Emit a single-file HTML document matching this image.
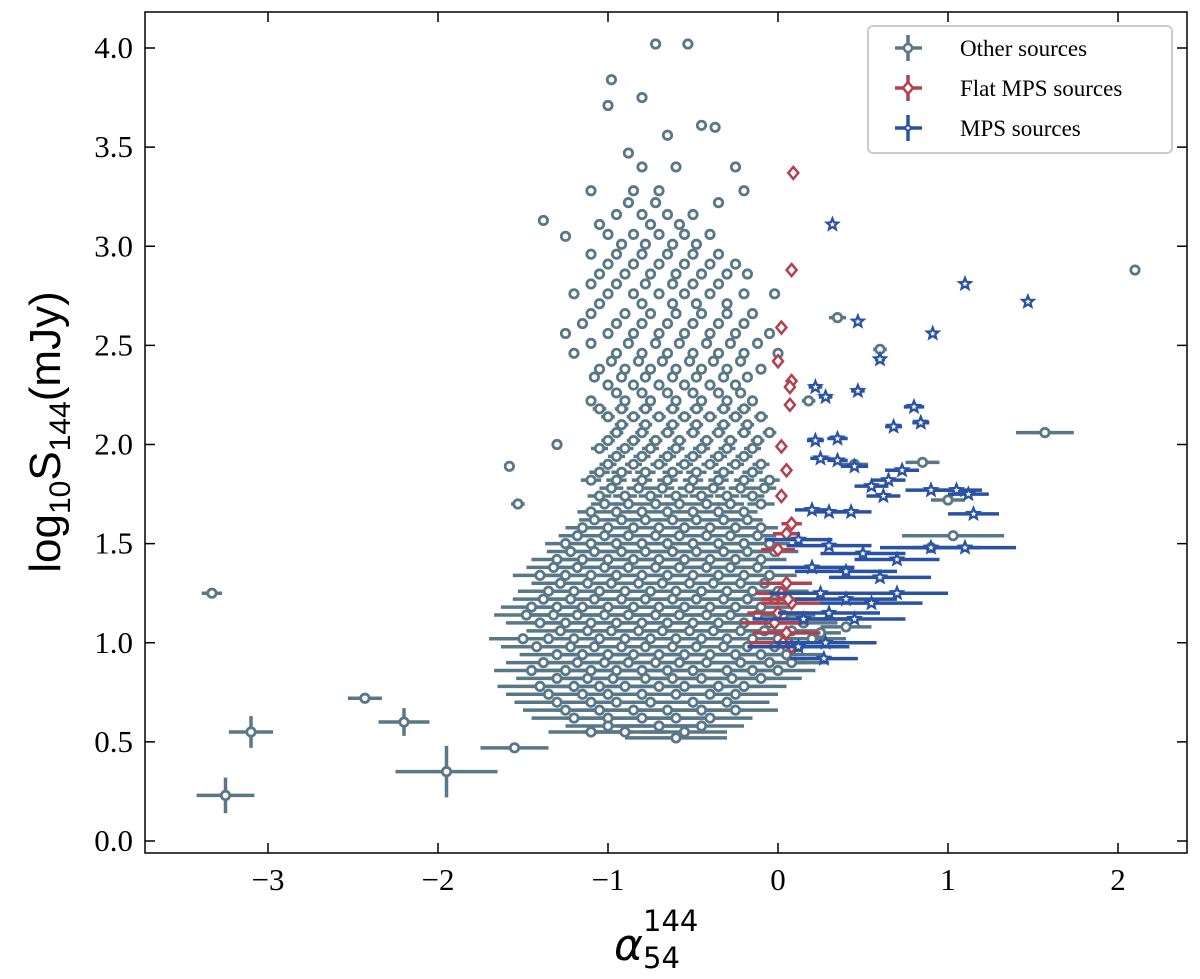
<!DOCTYPE html>
<html><head><meta charset="utf-8"><style>
html,body{margin:0;padding:0;background:#fff;}
svg{display:block;}
.tk{font-family:"Liberation Serif",serif;font-size:31px;fill:#000;}
</style></head><body>
<svg id="chart" width="1200" height="979" xmlns="http://www.w3.org/2000/svg">
<g id="marks"></g>
<rect x="145" y="12" width="1042" height="841" fill="none" stroke="#000" stroke-width="1.5"/>
<g id="axes"></g>
<text transform="translate(60,432) rotate(-90)" text-anchor="middle" font-family="'Liberation Sans',sans-serif" font-size="44">log<tspan font-size="30" dy="10">10</tspan><tspan dy="-10">S</tspan><tspan font-size="30" dy="10">144</tspan><tspan dy="-10">(mJy)</tspan></text>
<g font-family="'DejaVu Sans',sans-serif">
<text x="614" y="960" font-size="44" font-style="italic">α</text>
<text x="643" y="931" font-size="29">144</text>
<text x="643" y="968" font-size="29">54</text>
</g>
<g>
<rect x="868" y="26" width="304" height="127" rx="5" fill="#fff" stroke="#ccc" stroke-width="2"/>
<g id="leg"></g>
</g>
</svg>
<script>
const otherX=[-3.33,-3.25,-3.1,-2.43,-2.2,-1.95,-1.55,-0.6,-1.58,-1.53,-1.38,-1.3,-1.25,-0.72,-0.53,-0.98,-1.0,-0.8,-0.65,-0.88,-0.45,-0.37,2.1,1.57,0.35,0.6,0.85,1.0,1.03,0.9,0.45,0.4,0.25,0.18];
const otherY=[1.25,0.23,0.55,0.72,0.6,0.35,0.47,0.52,1.89,1.7,3.13,2.0,3.05,4.02,4.02,3.84,3.71,3.75,3.56,3.47,3.61,3.6,2.88,2.06,2.64,2.48,1.91,1.72,1.54,1.48,1.9,1.08,1.05,2.22];
const otherXerr=[0.06,0.17,0.13,0.1,0.15,0.3,0.2,0.3,0.02,0.04,0.02,0.02,0.02,0.02,0.02,0.02,0.02,0.02,0.02,0.02,0.02,0.02,0.03,0.17,0.05,0.04,0.1,0.1,0.3,0.2,0.08,0.15,0.12,0.04];
const otherYerr=[0.02,0.09,0.08,0.02,0.07,0.13,0.02,0.02,0,0,0,0,0,0,0,0,0,0,0,0,0,0,0,0,0,0,0,0,0,0,0,0,0,0];
const cloudRowY=[0.55,0.62,0.70,0.78,0.86,0.94,1.02,1.10,1.18,1.26,1.34,1.42,1.50,1.58,1.66,1.74,1.82,1.90,1.98,2.06,2.14,2.22,2.30,2.38,2.46,2.56,2.66,2.76,2.86,2.96,3.06,3.16,3.28,3.40];
const cloudRowX=[
[-1.1,-0.9,-0.55],[-1.2,-1.0,-0.8,-0.6,-0.4],[-1.3,-1.1,-0.95,-0.75,-0.5,-0.3],
[-1.4,-1.2,-1.05,-0.9,-0.7,-0.55,-0.35,-0.2],[-1.45,-1.25,-1.1,-0.95,-0.8,-0.65,-0.5,-0.3,-0.15,0.0],
[-1.3,-1.15,-1.0,-0.85,-0.7,-0.55,-0.4,-0.25,-0.1,0.05],[-1.5,-1.35,-1.2,-1.05,-0.9,-0.75,-0.6,-0.45,-0.3,-0.15,0.0,0.2],
[-1.4,-1.25,-1.1,-0.95,-0.8,-0.65,-0.5,-0.35,-0.2,-0.05,0.15],[-1.45,-1.3,-1.15,-1.0,-0.85,-0.7,-0.55,-0.4,-0.25,-0.1],
[-1.35,-1.2,-1.05,-0.9,-0.75,-0.6,-0.45,-0.3,-0.15,0.0],[-1.4,-1.25,-1.1,-0.95,-0.8,-0.65,-0.5,-0.35,-0.2,-0.05],
[-1.3,-1.15,-1.0,-0.85,-0.7,-0.55,-0.4,-0.25,-0.1],[-1.25,-1.1,-0.95,-0.8,-0.65,-0.5,-0.35,-0.2,-0.05],
[-1.15,-1.0,-0.85,-0.7,-0.55,-0.4,-0.25,-0.1],[-1.1,-0.95,-0.8,-0.65,-0.5,-0.35,-0.2],
[-1.05,-0.9,-0.75,-0.6,-0.45,-0.3,-0.15],[-1.1,-0.95,-0.8,-0.65,-0.5,-0.35,-0.2,-0.05],
[-1.0,-0.85,-0.7,-0.55,-0.4,-0.25,-0.1],[-1.05,-0.9,-0.75,-0.6,-0.45,-0.3,-0.15],
[-0.95,-0.8,-0.65,-0.5,-0.35,-0.2,-0.05],[-1.0,-0.85,-0.7,-0.55,-0.4,-0.25,-0.1],
[-1.1,-0.9,-0.75,-0.6,-0.45,-0.3,-0.15],[-1.0,-0.85,-0.7,-0.55,-0.4,-0.25],
[-1.05,-0.9,-0.75,-0.6,-0.45,-0.3,-0.1],[-1.2,-0.95,-0.8,-0.65,-0.5,-0.35,-0.2,0.0],
[-1.25,-1.0,-0.85,-0.7,-0.55,-0.4,-0.25,-0.05],[-1.1,-0.9,-0.75,-0.6,-0.45,-0.3,-0.15],
[-1.2,-1.0,-0.85,-0.7,-0.55,-0.4,-0.2,-0.02],[-1.05,-0.9,-0.75,-0.6,-0.45,-0.3,-0.18],
[-1.1,-0.95,-0.8,-0.65,-0.5,-0.35],[-1.0,-0.85,-0.7,-0.55,-0.4],[-0.95,-0.8,-0.65,-0.5],
[-1.1,-0.85,-0.7,-0.2],[-0.8,-0.6,-0.25]];
const cloudRowXerr=[0.25,0.25,0.25,0.25,0.22,0.22,0.2,0.2,0.18,0.18,0.16,0.15,0.12,0.1,0.08,0.07,0.06,0.05,0.05,0.04,0.04,0.03,0.03,0.03,0.03,0.02,0.02,0.02,0.02,0.02,0.02,0.02,0.02,0.02];
const cloud2RowY=[0.58,0.66,0.74,0.82,0.90,0.98,1.06,1.14,1.22,1.30,1.38,1.46,1.54,1.62,1.70,1.78,1.86,1.94,2.02,2.10,2.18,2.26,2.34,2.42,2.51,2.61,2.71,2.81,2.91,3.01,3.11,3.22];
const cloud2RowX=[
[-1.0,-0.7,-0.45],[-1.25,-1.05,-0.85,-0.65,-0.45,-0.25],[-1.35,-1.15,-1.0,-0.8,-0.6,-0.4,-0.25],
[-1.3,-1.12,-0.97,-0.78,-0.62,-0.45,-0.27,-0.1],[-1.38,-1.18,-1.02,-0.88,-0.72,-0.58,-0.42,-0.22,-0.05,0.08],
[-1.42,-1.22,-1.08,-0.92,-0.78,-0.62,-0.48,-0.32,-0.18,-0.02,0.12],[-1.28,-1.12,-0.98,-0.82,-0.68,-0.52,-0.38,-0.22,-0.08,0.08],
[-1.48,-1.32,-1.18,-1.02,-0.88,-0.72,-0.58,-0.42,-0.28,-0.12,0.03],[-1.38,-1.22,-1.08,-0.92,-0.78,-0.62,-0.48,-0.32,-0.18,-0.02],
[-1.28,-1.12,-0.98,-0.82,-0.68,-0.52,-0.38,-0.22,-0.08],[-1.32,-1.18,-1.02,-0.88,-0.72,-0.58,-0.42,-0.28,-0.12],
[-1.22,-1.08,-0.92,-0.78,-0.62,-0.48,-0.32,-0.18,-0.02],[-1.18,-1.02,-0.88,-0.72,-0.58,-0.42,-0.28,-0.12],
[-1.08,-0.92,-0.78,-0.62,-0.48,-0.32,-0.18],[-1.02,-0.88,-0.72,-0.58,-0.42,-0.28,-0.1],
[-0.98,-0.82,-0.68,-0.52,-0.38,-0.22,-0.08],[-1.05,-0.92,-0.78,-0.62,-0.48,-0.32,-0.15],
[-0.95,-0.8,-0.65,-0.5,-0.35,-0.2],[-1.0,-0.85,-0.72,-0.58,-0.42,-0.28,-0.12],
[-0.92,-0.78,-0.62,-0.48,-0.32,-0.18],[-1.05,-0.92,-0.78,-0.62,-0.48,-0.32,-0.2],
[-0.95,-0.8,-0.65,-0.5,-0.35,-0.22],[-1.08,-0.92,-0.78,-0.62,-0.48,-0.32,-0.18],
[-0.98,-0.82,-0.68,-0.52,-0.38,-0.22],[-1.1,-0.88,-0.72,-0.58,-0.42,-0.28,-0.12],
[-1.15,-0.95,-0.8,-0.65,-0.5,-0.35,-0.2],[-1.05,-0.8,-0.62,-0.48,-0.3],
[-1.1,-0.95,-0.78,-0.62,-0.5,-0.35],[-1.0,-0.85,-0.7,-0.55,-0.4,-0.25],
[-0.92,-0.78,-0.62,-0.48],[-1.05,-0.75,-0.58],[-0.88,-0.72,-0.35]];
const cloud2RowXerr=[0.25,0.25,0.25,0.24,0.22,0.21,0.2,0.19,0.18,0.17,0.16,0.14,0.11,0.09,0.08,0.07,0.06,0.05,0.04,0.04,0.04,0.03,0.03,0.03,0.03,0.02,0.02,0.02,0.02,0.02,0.02,0.02];
const flatX=[0.09,0.08,0.02,0.0,0.08,0.07,0.07,0.02,0.02,0.05,0.08,0.05,0.0,0.05,0.02,0.0,0.05,0.03,0.08,0.08,-0.02,0.06];
const flatY=[3.37,2.88,2.59,2.42,2.32,2.29,2.2,1.99,1.74,1.87,1.6,1.55,1.47,1.3,1.25,1.15,1.05,1.0,0.98,1.2,1.1,1.22];
const flatXerr=[0.01,0.01,0.01,0.01,0.02,0.02,0.02,0.02,0.03,0.03,0.06,0.08,0.1,0.15,0.15,0.18,0.2,0.2,0.22,0.18,0.2,0.16];
const mpsX=[0.32,1.1,1.47,0.47,0.91,0.6,0.22,0.28,0.47,0.8,0.84,0.68,0.22,0.35,0.25,0.35,0.45,0.65,0.73,0.55,0.62,0.2,0.3,0.43,0.9,1.05,1.12,1.15,0.12,0.3,0.5,0.7,0.9,1.1,0.2,0.4,0.6,0.25,0.4,0.55,0.7,0.15,0.3,0.45,0.12,0.28,0.27];
const mpsY=[3.11,2.81,2.72,2.62,2.56,2.43,2.29,2.24,2.27,2.19,2.11,2.09,2.02,2.03,1.93,1.92,1.89,1.82,1.87,1.79,1.74,1.67,1.66,1.66,1.77,1.77,1.75,1.65,1.52,1.49,1.45,1.42,1.48,1.48,1.38,1.36,1.33,1.25,1.22,1.2,1.25,1.12,1.15,1.12,0.98,1.0,0.92];
const mpsXerr=[0.02,0.02,0.02,0.02,0.02,0.03,0.04,0.04,0.04,0.06,0.05,0.05,0.05,0.06,0.06,0.06,0.08,0.1,0.1,0.1,0.1,0.1,0.1,0.12,0.15,0.15,0.12,0.15,0.2,0.25,0.25,0.25,0.3,0.3,0.25,0.3,0.3,0.3,0.3,0.3,0.3,0.3,0.3,0.3,0.3,0.3,0.2];
const xTicks=[-3,-2,-1,0,1,2];
const xTickLabels=["−3","−2","−1","0","1","2"];
const yTicks=[0,0.5,1,1.5,2,2.5,3,3.5,4];
const yTickLabels=["0.0","0.5","1.0","1.5","2.0","2.5","3.0","3.5","4.0"];

const X=v=>778+v*170, Y=v=>841-v*198.25;
const NS="http://www.w3.org/2000/svg";
const G=document.getElementById('marks');
const GRAY="#587888",RED="#b4404e",BLUE="#2a52a4";
function mk(tag,attrs,parent){const e=document.createElementNS(NS,tag);for(const k in attrs)e.setAttribute(k,attrs[k]);parent.appendChild(e);return e;}
function errbar(g,x,y,xe,ye,c){
  mk('line',{x1:X(x-xe),x2:X(x+xe),y1:Y(y),y2:Y(y),stroke:c,'stroke-width':3.5},g);
  if(ye>0)mk('line',{x1:X(x),x2:X(x),y1:Y(y-ye),y2:Y(y+ye),stroke:c,'stroke-width':3.5},g);
}
function circ(g,x,y){mk('circle',{cx:X(x),cy:Y(y),r:4.2,fill:'#fff',stroke:GRAY,'stroke-width':2.8},g);}
function diam(g,x,y){const cx=X(x),cy=Y(y);mk('polygon',{points:`${cx},${cy-6} ${cx+5},${cy} ${cx},${cy+6} ${cx-5},${cy}`,fill:'#fff',stroke:RED,'stroke-width':2.5},g);}
function star(g,x,y){const cx=X(x),cy=Y(y);let p=[];for(let i=0;i<10;i++){const r=i%2?2.6:6,a=-Math.PI/2+i*Math.PI/5;p.push((cx+r*Math.cos(a)).toFixed(1)+','+(cy+r*Math.sin(a)).toFixed(1));}
  mk('polygon',{points:p.join(' '),fill:'#fff',stroke:BLUE,'stroke-width':2.2},g);}

const gO=mk('g',{},G);


const gF=mk('g',{},G);


const gM=mk('g',{},G);



cloudRowY.forEach((y,i)=>cloudRowX[i].forEach(x=>errbar(gO,x,y,cloudRowXerr[i],0.02,GRAY)));
cloud2RowY.forEach((y,i)=>cloud2RowX[i].forEach(x=>errbar(gO,x,y,cloud2RowXerr[i],0.02,GRAY)));
otherX.forEach((x,i)=>errbar(gO,x,otherY[i],otherXerr[i],otherYerr[i],GRAY));
flatX.forEach((x,i)=>errbar(gF,x,flatY[i],flatXerr[i],0.02,RED));
mpsX.forEach((x,i)=>errbar(gM,x,mpsY[i],mpsXerr[i],0.02,BLUE));
cloudRowY.forEach((y,i)=>cloudRowX[i].forEach(x=>circ(gO,x,y)));
cloud2RowY.forEach((y,i)=>cloud2RowX[i].forEach(x=>circ(gO,x,y)));
otherX.forEach((x,i)=>circ(gO,x,otherY[i]));
flatX.forEach((x,i)=>diam(gF,x,flatY[i]));
mpsX.forEach((x,i)=>star(gM,x,mpsY[i]));

const A=document.getElementById('axes');
xTicks.forEach((t,i)=>{
  const tl=mk('line',{x1:X(t),x2:X(t),y1:853,y2:843,stroke:'#000','stroke-width':1.5},A);
  
  
  mk('line',{x1:X(t),x2:X(t),y1:12,y2:22,stroke:'#000','stroke-width':1.5},A);
  const tx=mk('text',{x:X(t),y:890,'text-anchor':'middle',class:'tk'},A);
  tx.textContent=xTickLabels[i];
  
  
});
yTicks.forEach((t,i)=>{
  const tl=mk('line',{x1:145,x2:155,y1:Y(t),y2:Y(t),stroke:'#000','stroke-width':1.5},A);
  
  
  mk('line',{x1:1187,x2:1177,y1:Y(t),y2:Y(t),stroke:'#000','stroke-width':1.5},A);
  const tx=mk('text',{x:133,y:Y(t)+10,'text-anchor':'end',class:'tk'},A);
  tx.textContent=yTickLabels[i];
  
  
});

const L=document.getElementById('leg');
const legNames=["Other sources","Flat MPS sources","MPS sources"];
const legCols=[GRAY,RED,BLUE];
legNames.forEach((n,i)=>{
  const yy=48+i*40;
  const e=mk('g',{},L);
  
  
  mk('line',{x1:895,x2:922,y1:yy,y2:yy,stroke:legCols[i],'stroke-width':3.5},e);
  mk('line',{x1:908,x2:908,y1:yy-13,y2:yy+13,stroke:legCols[i],'stroke-width':3.5},e);
  if(i==0)mk('circle',{cx:908,cy:yy,r:4,fill:'#fff',stroke:GRAY,'stroke-width':2.5},e);
  if(i==1)mk('polygon',{points:`908,${yy-6} 913,${yy} 908,${yy+6} 903,${yy}`,fill:'#fff',stroke:RED,'stroke-width':2.5},e);
  if(i==2)mk('circle',{cx:908,cy:yy,r:2.5,fill:'#fff',stroke:BLUE,'stroke-width':2},e);
  const t=mk('text',{x:960,y:yy+8,'font-family':'Liberation Serif,serif','font-size':23},e);
  t.textContent=n;
});
</script>
</body></html>
